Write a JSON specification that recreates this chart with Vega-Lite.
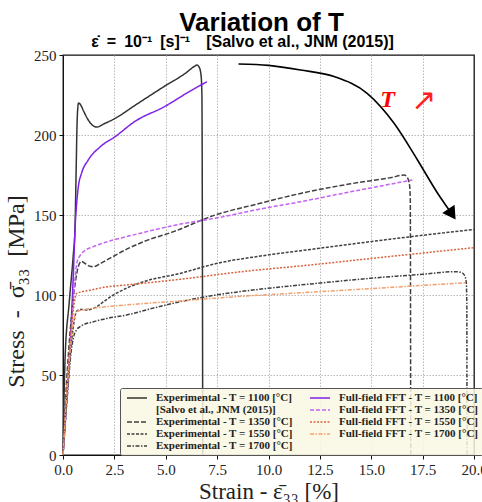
{
  "$schema": "https://vega.github.io/schema/vega-lite/v6.json",
  "width": 411,
  "height": 400,
  "autosize": {"type": "none"},
  "padding": {"left": 63, "top": 55, "right": 8, "bottom": 47},
  "background": "white",
  "title": {
    "text": "\u2800\u2800Variation of T",
    "subtitle": "ε̇\u2002=\u200210⁻¹\u2002[s]⁻¹\u2003[Salvo et al., JNM (2015)]",
    "anchor": "middle",
    "frame": "group",
    "dx": -26,
    "font": "Liberation Sans",
    "fontSize": 26,
    "fontWeight": "bold",
    "color": "black",
    "subtitleFont": "Liberation Sans",
    "subtitleFontSize": 16,
    "subtitleFontWeight": "bold",
    "subtitleColor": "black",
    "subtitlePadding": -2,
    "offset": -2
  },
  "config": {
    "view": {"stroke": "#111", "strokeWidth": 1.3},
    "axis": {
      "labelFont": "Liberation Serif",
      "titleFont": "Liberation Serif",
      "titleFontWeight": "normal",
      "titleFontSize": 23,
      "labelFontSize": 15,
      "labelColor": "#222",
      "titleColor": "#222",
      "domainColor": "#111",
      "tickColor": "#111",
      "tickSize": 4,
      "labelFlush": false,
      "grid": true,
      "gridColor": "#b8b8b8",
      "gridDash": [1.5, 1.5],
      "gridWidth": 1
    }
  },
  "datasets": {
    "curves": [
      {"series": "E1100", "strain": 0, "stress": 0},
      {"series": "E1100", "strain": 0.1, "stress": 60},
      {"series": "E1100", "strain": 0.3, "stress": 95},
      {"series": "E1100", "strain": 0.5, "stress": 125},
      {"series": "E1100", "strain": 0.58, "stress": 140},
      {"series": "E1100", "strain": 0.64, "stress": 178},
      {"series": "E1100", "strain": 0.68, "stress": 205},
      {"series": "E1100", "strain": 0.72, "stress": 217},
      {"series": "E1100", "strain": 0.76, "stress": 220},
      {"series": "E1100", "strain": 0.85, "stress": 219},
      {"series": "E1100", "strain": 1.0, "stress": 215},
      {"series": "E1100", "strain": 1.2, "stress": 210},
      {"series": "E1100", "strain": 1.4, "stress": 206.5},
      {"series": "E1100", "strain": 1.65, "stress": 205},
      {"series": "E1100", "strain": 2.0, "stress": 207},
      {"series": "E1100", "strain": 2.54, "stress": 210.4},
      {"series": "E1100", "strain": 3.5, "stress": 218.5},
      {"series": "E1100", "strain": 4.98, "stress": 230.8},
      {"series": "E1100", "strain": 6.0, "stress": 239},
      {"series": "E1100", "strain": 6.35, "stress": 242.5},
      {"series": "E1100", "strain": 6.52, "stress": 243.7},
      {"series": "E1100", "strain": 6.64, "stress": 242},
      {"series": "E1100", "strain": 6.72, "stress": 237},
      {"series": "E1100", "strain": 6.76, "stress": 225},
      {"series": "E1100", "strain": 6.78, "stress": 150},
      {"series": "E1100", "strain": 6.8, "stress": 0},

      {"series": "F1100", "strain": 0, "stress": 0},
      {"series": "F1100", "strain": 0.15, "stress": 30},
      {"series": "F1100", "strain": 0.34, "stress": 67},
      {"series": "F1100", "strain": 0.5, "stress": 112},
      {"series": "F1100", "strain": 0.6, "stress": 145},
      {"series": "F1100", "strain": 0.67, "stress": 158},
      {"series": "F1100", "strain": 0.75, "stress": 168},
      {"series": "F1100", "strain": 0.9, "stress": 176},
      {"series": "F1100", "strain": 1.23, "stress": 184.4},
      {"series": "F1100", "strain": 1.8, "stress": 192.5},
      {"series": "F1100", "strain": 2.54, "stress": 199},
      {"series": "F1100", "strain": 3.5, "stress": 208.5},
      {"series": "F1100", "strain": 4.98, "stress": 218},
      {"series": "F1100", "strain": 6.0, "stress": 226},
      {"series": "F1100", "strain": 7.0, "stress": 233.3},

      {"series": "E1350", "strain": 0, "stress": 0},
      {"series": "E1350", "strain": 0.15, "stress": 40},
      {"series": "E1350", "strain": 0.4, "stress": 85},
      {"series": "E1350", "strain": 0.6, "stress": 108},
      {"series": "E1350", "strain": 0.75, "stress": 118},
      {"series": "E1350", "strain": 0.9, "stress": 121},
      {"series": "E1350", "strain": 1.1, "stress": 119.5},
      {"series": "E1350", "strain": 1.3, "stress": 118},
      {"series": "E1350", "strain": 1.5, "stress": 117.7},
      {"series": "E1350", "strain": 1.8, "stress": 119.5},
      {"series": "E1350", "strain": 2.29, "stress": 123},
      {"series": "E1350", "strain": 3.0, "stress": 128},
      {"series": "E1350", "strain": 3.92, "stress": 133.3},
      {"series": "E1350", "strain": 5.38, "stress": 139.6},
      {"series": "E1350", "strain": 7.41, "stress": 150},
      {"series": "E1350", "strain": 9.5, "stress": 157},
      {"series": "E1350", "strain": 11.56, "stress": 163.5},
      {"series": "E1350", "strain": 14.0, "stress": 169.5},
      {"series": "E1350", "strain": 16.0, "stress": 173.5},
      {"series": "E1350", "strain": 16.6, "stress": 175},
      {"series": "E1350", "strain": 16.75, "stress": 173.5},
      {"series": "E1350", "strain": 16.85, "stress": 170},
      {"series": "E1350", "strain": 16.9, "stress": 160},
      {"series": "E1350", "strain": 16.92, "stress": 0},

      {"series": "F1350", "strain": 0, "stress": 0},
      {"series": "F1350", "strain": 0.3, "stress": 55},
      {"series": "F1350", "strain": 0.55, "stress": 105},
      {"series": "F1350", "strain": 0.67, "stress": 119.8},
      {"series": "F1350", "strain": 0.8, "stress": 124},
      {"series": "F1350", "strain": 0.99, "stress": 127},
      {"series": "F1350", "strain": 1.48, "stress": 130.2},
      {"series": "F1350", "strain": 2.2, "stress": 133.5},
      {"series": "F1350", "strain": 3.1, "stress": 136.5},
      {"series": "F1350", "strain": 4.4, "stress": 140.6},
      {"series": "F1350", "strain": 5.8, "stress": 144.5},
      {"series": "F1350", "strain": 7.41, "stress": 148},
      {"series": "F1350", "strain": 9.5, "stress": 153.5},
      {"series": "F1350", "strain": 11.56, "stress": 158.3},
      {"series": "F1350", "strain": 14.0, "stress": 164.5},
      {"series": "F1350", "strain": 17.0, "stress": 171.9},

      {"series": "E1550", "strain": 0, "stress": 0},
      {"series": "E1550", "strain": 0.2, "stress": 40},
      {"series": "E1550", "strain": 0.45, "stress": 75},
      {"series": "E1550", "strain": 0.67, "stress": 90},
      {"series": "E1550", "strain": 0.9, "stress": 91},
      {"series": "E1550", "strain": 1.16, "stress": 90.6},
      {"series": "E1550", "strain": 1.4, "stress": 91.2},
      {"series": "E1550", "strain": 1.64, "stress": 92.7},
      {"series": "E1550", "strain": 2.0, "stress": 96},
      {"series": "E1550", "strain": 2.45, "stress": 100},
      {"series": "E1550", "strain": 3.1, "stress": 104.3},
      {"series": "E1550", "strain": 3.92, "stress": 108.3},
      {"series": "E1550", "strain": 5.7, "stress": 113.5},
      {"series": "E1550", "strain": 7.5, "stress": 119.8},
      {"series": "E1550", "strain": 9.7, "stress": 124.5},
      {"series": "E1550", "strain": 12.05, "stress": 128.5},
      {"series": "E1550", "strain": 16.0, "stress": 135},
      {"series": "E1550", "strain": 20.0, "stress": 141},

      {"series": "F1550", "strain": 0, "stress": 0},
      {"series": "F1550", "strain": 0.2, "stress": 45},
      {"series": "F1550", "strain": 0.45, "stress": 85},
      {"series": "F1550", "strain": 0.67, "stress": 101},
      {"series": "F1550", "strain": 0.9, "stress": 102},
      {"series": "F1550", "strain": 1.32, "stress": 103},
      {"series": "F1550", "strain": 2.0, "stress": 104.8},
      {"series": "F1550", "strain": 3.1, "stress": 106.3},
      {"series": "F1550", "strain": 5.7, "stress": 109.8},
      {"series": "F1550", "strain": 8.5, "stress": 114.3},
      {"series": "F1550", "strain": 12.05, "stress": 118.8},
      {"series": "F1550", "strain": 16.0, "stress": 124.2},
      {"series": "F1550", "strain": 20.0, "stress": 129.6},

      {"series": "E1700", "strain": 0, "stress": 0},
      {"series": "E1700", "strain": 0.2, "stress": 35},
      {"series": "E1700", "strain": 0.4, "stress": 65},
      {"series": "E1700", "strain": 0.5, "stress": 73},
      {"series": "E1700", "strain": 0.65, "stress": 78},
      {"series": "E1700", "strain": 0.83, "stress": 80.2},
      {"series": "E1700", "strain": 1.48, "stress": 83.3},
      {"series": "E1700", "strain": 2.2, "stress": 85.5},
      {"series": "E1700", "strain": 3.1, "stress": 87.5},
      {"series": "E1700", "strain": 4.3, "stress": 91.5},
      {"series": "E1700", "strain": 5.7, "stress": 95.8},
      {"series": "E1700", "strain": 7.4, "stress": 99.9},
      {"series": "E1700", "strain": 9.5, "stress": 103.5},
      {"series": "E1700", "strain": 12.05, "stress": 106.9},
      {"series": "E1700", "strain": 15.0, "stress": 110.5},
      {"series": "E1700", "strain": 17.5, "stress": 113},
      {"series": "E1700", "strain": 19.12, "stress": 114.6},
      {"series": "E1700", "strain": 19.4, "stress": 114},
      {"series": "E1700", "strain": 19.53, "stress": 112.5},
      {"series": "E1700", "strain": 19.62, "stress": 108.3},
      {"series": "E1700", "strain": 19.65, "stress": 95},
      {"series": "E1700", "strain": 19.66, "stress": 0},

      {"series": "F1700", "strain": 0, "stress": 0},
      {"series": "F1700", "strain": 0.2, "stress": 40},
      {"series": "F1700", "strain": 0.45, "stress": 78},
      {"series": "F1700", "strain": 0.67, "stress": 89.6},
      {"series": "F1700", "strain": 0.9, "stress": 90.5},
      {"series": "F1700", "strain": 1.48, "stress": 91.7},
      {"series": "F1700", "strain": 3.1, "stress": 93.8},
      {"series": "F1700", "strain": 5.7, "stress": 96.3},
      {"series": "F1700", "strain": 8.5, "stress": 99},
      {"series": "F1700", "strain": 12.05, "stress": 101.7},
      {"series": "F1700", "strain": 16.0, "stress": 104.8},
      {"series": "F1700", "strain": 19.6, "stress": 107.7}
    ],
    "arrow": [
      {"strain": 8.54, "stress": 244.4},
      {"strain": 10.0, "stress": 243.5},
      {"strain": 11.56, "stress": 240.6},
      {"strain": 13.19, "stress": 236.5},
      {"strain": 14.8, "stress": 226},
      {"strain": 16.11, "stress": 207.3},
      {"strain": 17.25, "stress": 184.4},
      {"strain": 18.23, "stress": 163.6},
      {"strain": 18.85, "stress": 152}
    ],
    "arrowhead": [
      {"strain": 18.93, "stress": 150.5}
    ],
    "notes": [
      {"strain": 15.8, "stress": 222, "txt": "T"}
    ],
    "uparrow": [
      {"strain": 17.56, "stress": 221.5, "txt": "↗"}
    ]
  },
  "layer": [
    {
      "data": {"name": "curves"},
      "mark": {"type": "line", "strokeWidth": 1.5, "interpolate": "monotone"},
      "encoding": {
        "x": {
          "field": "strain", "type": "quantitative",
          "scale": {"domain": [0, 20], "nice": false, "zero": false},
          "axis": {
            "values": [0, 2.5, 5, 7.5, 10, 12.5, 15, 17.5, 20],
            "format": ".1f",
            "title": "Strain - ε̄₃₃ [%]",
            "labelPadding": 3,
            "titlePadding": 3,
            "gridOpacity": {"condition": {"test": "datum.value >= 20", "value": 0}, "value": 1}
          }
        },
        "y": {
          "field": "stress", "type": "quantitative",
          "scale": {"domain": [0, 250], "nice": false},
          "axis": {
            "values": [0, 50, 100, 150, 200, 250],
            "title": "Stress\u2002-\u2002σ̄₃₃\u2002[MPa]",
            "titleFontSize": 24,
            "titleY": 236,
            "labelPadding": 3,
            "titlePadding": 5,
            "gridOpacity": {"condition": {"test": "datum.value >= 250", "value": 0}, "value": 1}
          }
        },
        "color": {
          "field": "series", "type": "nominal",
          "scale": {
            "domain": ["E1100", "Salvo", "E1350", "E1550", "E1700", "F1100", "F1350", "F1550", "F1700"],
            "range": ["#333333", "rgba(0,0,0,0)", "#404040", "#404040", "#404040", "#7d22e6", "#c462f5", "#d9643e", "#f2a06e"]
          },
          "legend": {
            "title": null,
            "orient": "none",
            "legendX": 57,
            "legendY": 333,
            "columns": 2,
            "symbolType": "M-0.6,0L3.4,0",
            "symbolSize": 100,
            "symbolStrokeWidth": 1.5,
            "labelFont": "Liberation Serif",
            "labelFontSize": 11,
            "labelFontWeight": "bold",
            "labelColor": "#222",
            "labelLimit": 0,
            "labelOffset": 20,
            "rowPadding": 1,
            "columnPadding": 14,
            "padding": 4,
            "fillColor": "rgba(249,247,226,0.85)",
            "strokeColor": "#555555",
            "cornerRadius": 2,
            "labelExpr": "datum.value == 'Salvo' ? '[Salvo et al., JNM (2015)]' : (substring(datum.value, 0, 1) == 'E' ? 'Experimental - T = ' : 'Full-field FFT - T = ') + substring(datum.value, 1) + ' [°C]'"
          }
        },
        "strokeDash": {
          "field": "series", "type": "nominal",
          "scale": {
            "domain": ["E1100", "Salvo", "E1350", "E1550", "E1700", "F1100", "F1350", "F1550", "F1700"],
            "range": [[1, 0], [1, 0], [5, 2], [3, 1.5], [4, 1.5, 1.5, 1.5], [1, 0], [4, 2], [2, 1.5], [4, 1.5, 1.5, 1.5]]
          },
          "legend": {
            "title": null,
            "orient": "none",
            "legendX": 57,
            "legendY": 333,
            "columns": 2,
            "symbolType": "M-0.6,0L3.4,0",
            "symbolSize": 100,
            "symbolStrokeWidth": 1.5,
            "labelFont": "Liberation Serif",
            "labelFontSize": 11,
            "labelFontWeight": "bold",
            "labelColor": "#222",
            "labelLimit": 0,
            "labelOffset": 20,
            "rowPadding": 1,
            "columnPadding": 14,
            "padding": 4,
            "fillColor": "rgba(249,247,226,0.85)",
            "strokeColor": "#555555",
            "cornerRadius": 2,
            "labelExpr": "datum.value == 'Salvo' ? '[Salvo et al., JNM (2015)]' : (substring(datum.value, 0, 1) == 'E' ? 'Experimental - T = ' : 'Full-field FFT - T = ') + substring(datum.value, 1) + ' [°C]'"
          }
        }
      }
    },
    {
      "data": {"name": "arrow"},
      "mark": {"type": "line", "color": "black", "strokeWidth": 1.6, "interpolate": "monotone"},
      "encoding": {
        "x": {"field": "strain", "type": "quantitative"},
        "y": {"field": "stress", "type": "quantitative"}
      }
    },
    {
      "data": {"name": "arrowhead"},
      "mark": {"type": "point", "shape": "triangle-down", "filled": true, "color": "black", "size": 220, "angle": 326, "opacity": 1},
      "encoding": {
        "x": {"field": "strain", "type": "quantitative"},
        "y": {"field": "stress", "type": "quantitative"}
      }
    },
    {
      "data": {"name": "notes"},
      "mark": {"type": "text", "color": "#ff0000", "font": "Liberation Serif", "fontSize": 24, "fontWeight": "bold", "fontStyle": "italic", "align": "center", "baseline": "middle"},
      "encoding": {
        "x": {"field": "strain", "type": "quantitative"},
        "y": {"field": "stress", "type": "quantitative"},
        "text": {"field": "txt"}
      }
    },
    {
      "data": {"name": "uparrow"},
      "mark": {"type": "text", "color": "#ff2020", "font": "DejaVu Sans", "fontSize": 30, "align": "center", "baseline": "middle"},
      "encoding": {
        "x": {"field": "strain", "type": "quantitative"},
        "y": {"field": "stress", "type": "quantitative"},
        "text": {"field": "txt"}
      }
    }
  ]
}
